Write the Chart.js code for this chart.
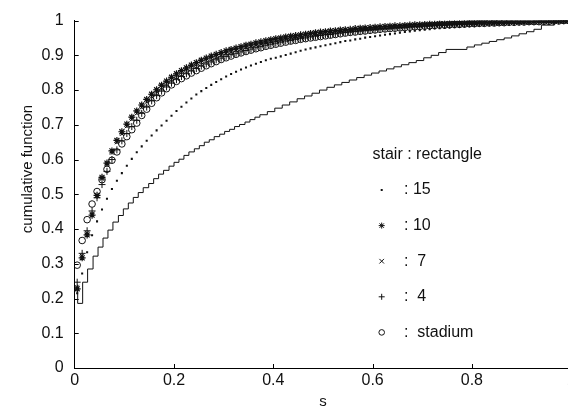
<!DOCTYPE html>
<html><head><meta charset="utf-8">
<script src="https://cdn.jsdelivr.net/npm/chart.js@4.4.1/dist/chart.umd.min.js"></script>
<style>
html,body{margin:0;padding:0;overflow:hidden;background:#fff;width:568px;height:408px}
#wrap{width:580px;height:408px;position:relative}
</style></head><body><div id="wrap"><canvas id="c" width="580" height="408"></canvas></div>
<script>
// sampling grid of s for the marker series
const sGrid = [0.005,0.015,0.025,0.035,0.045,0.055,0.065,0.075,0.085,0.095,
0.105,0.115,0.125,0.135,0.145,0.155,0.165,0.175,0.185,0.195,
0.205,0.215,0.225,0.235,0.245,0.255,0.265,0.275,0.285,0.295,
0.305,0.315,0.325,0.335,0.345,0.355,0.365,0.375,0.385,0.395,
0.405,0.415,0.425,0.435,0.445,0.455,0.465,0.475,0.485,0.495,
0.505,0.515,0.525,0.535,0.545,0.555,0.565,0.575,0.585,0.595,
0.605,0.615,0.625,0.635,0.645,0.655,0.665,0.675,0.685,0.695,
0.705,0.715,0.725,0.735,0.745,0.755,0.765,0.775,0.785,0.795,
0.805,0.815,0.825,0.835,0.845,0.855,0.865,0.875,0.885,0.895,
0.905,0.915,0.925,0.935,0.945,0.955,0.965,0.975,0.985,0.995];

// stair = rectangle (step positions and levels)
const stairX = [0.006,0.006,0.016,0.026,0.037,0.047,0.057,0.067,0.077,0.088,0.098,
0.108,0.118,0.128,0.138,0.149,0.159,0.169,0.179,0.190,0.200,
0.210,0.220,0.230,0.241,0.251,0.261,0.271,0.281,0.292,0.302,
0.312,0.322,0.332,0.343,0.353,0.363,0.373,
0.388,0.403,0.418,0.433,0.448,0.463,0.478,0.493,0.508,0.523,
0.538,0.553,0.568,0.583,0.598,0.613,0.628,0.643,0.658,0.673,
0.688,0.703,0.718,0.733,0.748,0.790,0.805,0.820,0.835,0.850,
0.865,0.880,0.895,0.910,0.925,0.940,0.966,1.0];
const stairY = [0.240,0.186,0.247,0.285,0.322,0.348,0.374,0.397,0.420,0.439,0.458,
0.475,0.491,0.505,0.519,0.531,0.545,0.558,0.569,0.581,0.592,
0.601,0.612,0.622,0.631,0.640,0.650,0.657,0.666,0.673,0.681,
0.687,0.695,0.701,0.708,0.715,0.722,0.729,
0.738,0.748,0.757,0.766,0.775,0.783,0.791,0.800,0.808,0.815,
0.822,0.829,0.836,0.843,0.849,0.855,0.861,0.867,0.873,0.879,
0.885,0.893,0.900,0.908,0.917,0.924,0.930,0.935,0.940,0.945,
0.950,0.956,0.962,0.968,0.975,0.987,0.996,0.998];

// 15 (dots)
const dots15 = [0.215,0.272,0.333,0.382,0.422,0.456,0.487,0.515,0.539,0.561,
0.582,0.602,0.621,0.638,0.654,0.669,0.684,0.698,0.712,0.726,
0.740,0.752,0.764,0.776,0.787,0.797,0.806,0.815,0.823,0.831,
0.839,0.846,0.853,0.859,0.865,0.871,0.876,0.881,0.886,0.890,
0.893,0.897,0.901,0.905,0.909,0.913,0.917,0.920,0.923,0.926,
0.929,0.932,0.935,0.938,0.941,0.943,0.946,0.948,0.951,0.953,
0.955,0.957,0.959,0.961,0.963,0.965,0.967,0.969,0.971,0.972,
0.974,0.975,0.977,0.978,0.979,0.980,0.981,0.982,0.983,0.984,
0.985,0.986,0.987,0.988,0.989,0.990,0.990,0.991,0.992,0.993,
0.993,0.994,0.995,0.995,0.996,0.997,0.997,0.998,0.999,1.000];

// 10 (stars)
const stars10 = [0.228,0.317,0.383,0.440,0.497,0.549,0.590,0.625,0.655,0.680,
0.702,0.722,0.740,0.757,0.773,0.788,0.801,0.814,0.826,0.837,
0.847,0.856,0.864,0.872,0.879,0.886,0.892,0.898,0.903,0.908,
0.913,0.917,0.921,0.925,0.929,0.932,0.936,0.939,0.942,0.945,
0.948,0.950,0.953,0.955,0.957,0.959,0.961,0.963,0.965,0.967,
0.968,0.970,0.971,0.973,0.974,0.975,0.977,0.978,0.979,0.980,
0.981,0.982,0.983,0.984,0.985,0.985,0.986,0.987,0.988,0.988,
0.989,0.990,0.990,0.991,0.991,0.992,0.992,0.993,0.993,0.994,
0.994,0.995,0.995,0.995,0.996,0.996,0.996,0.997,0.997,0.997,
0.998,0.998,0.998,0.999,0.999,0.999,0.999,1.000,1.000,1.000];

// 7 (crosses)
const cross7 = [0.232,0.322,0.388,0.444,0.496,0.545,0.586,0.620,0.650,0.674,
0.696,0.716,0.733,0.750,0.766,0.781,0.795,0.808,0.820,0.831,
0.841,0.850,0.858,0.866,0.873,0.880,0.886,0.892,0.897,0.902,
0.907,0.911,0.915,0.919,0.923,0.926,0.930,0.933,0.936,0.939,
0.942,0.944,0.947,0.949,0.952,0.954,0.956,0.958,0.960,0.962,
0.963,0.965,0.967,0.968,0.970,0.971,0.972,0.974,0.975,0.976,
0.977,0.978,0.979,0.980,0.981,0.982,0.983,0.984,0.985,0.985,
0.986,0.987,0.988,0.988,0.989,0.990,0.990,0.991,0.991,0.992,
0.992,0.993,0.993,0.994,0.994,0.995,0.995,0.996,0.996,0.996,
0.997,0.997,0.998,0.998,0.998,0.999,0.999,0.999,1.000,1.000];

// 4 (plus)
const plus4 = [0.247,0.330,0.395,0.452,0.490,0.528,0.566,0.600,0.628,0.654,
0.675,0.695,0.713,0.733,0.751,0.769,0.784,0.797,0.809,0.820,
0.830,0.839,0.847,0.855,0.862,0.869,0.875,0.881,0.887,0.892,
0.897,0.902,0.906,0.910,0.914,0.918,0.922,0.925,0.929,0.932,
0.935,0.938,0.941,0.943,0.946,0.948,0.950,0.953,0.955,0.957,
0.959,0.960,0.962,0.964,0.966,0.967,0.969,0.970,0.972,0.973,
0.974,0.976,0.977,0.978,0.979,0.980,0.981,0.982,0.983,0.984,
0.985,0.985,0.986,0.987,0.988,0.988,0.989,0.990,0.990,0.991,
0.991,0.992,0.993,0.993,0.994,0.994,0.995,0.995,0.996,0.996,
0.996,0.997,0.997,0.998,0.998,0.998,0.999,0.999,1.000,1.000];

// stadium (circles)
const stadium = [0.296,0.367,0.427,0.472,0.508,0.542,0.572,0.598,0.622,0.645,
0.666,0.686,0.705,0.727,0.745,0.762,0.778,0.792,0.804,0.815,
0.825,0.833,0.841,0.849,0.856,0.863,0.870,0.876,0.882,0.888,
0.893,0.898,0.903,0.907,0.911,0.915,0.919,0.922,0.926,0.929,
0.932,0.935,0.938,0.941,0.943,0.946,0.948,0.950,0.952,0.954,
0.956,0.958,0.960,0.962,0.964,0.966,0.967,0.969,0.970,0.972,
0.973,0.975,0.976,0.977,0.978,0.979,0.980,0.981,0.982,0.983,
0.984,0.985,0.986,0.987,0.987,0.988,0.989,0.989,0.990,0.991,
0.991,0.992,0.992,0.993,0.993,0.994,0.994,0.995,0.995,0.996,
0.996,0.997,0.997,0.997,0.998,0.998,0.999,0.999,1.000,1.000];

const xTickValues = [0.2,0.4,0.6,0.8,1];
const yTickValues = [0.1,0.2,0.3,0.4,0.5,0.6,0.7,0.8,0.9,1];
const legendTitle = 'stair : rectangle';
const legendRows = [
  {mark:'dot', text:': 15'},
  {mark:'star', text:': 10'},
  {mark:'x', text:':  7'},
  {mark:'plus', text:':  4'},
  {mark:'circle', text:':  stadium'}
];
const xTitle = 's';
const yTitle = 'cumulative function';

const FONT = '"Liberation Sans", Arial, Helvetica, sans-serif';
const INK = '#111';
const fmt = v => String(Math.round(v*10)/10);

const pts = arr => arr.map((v,i)=>({x:sGrid[i], y:v}));

const decor = {
  id:'decor',
  beforeDatasetsDraw(chart){
    const {ctx, chartArea:a, scales:{x,y}} = chart;
    ctx.save();
    ctx.strokeStyle = '#000'; ctx.lineWidth = 1;
    ctx.beginPath();
    xTickValues.forEach(v=>{ const px = Math.round(x.getPixelForValue(v))+0.5; ctx.moveTo(px, a.bottom); ctx.lineTo(px, a.bottom-4); });
    yTickValues.forEach(v=>{ const py = Math.round(y.getPixelForValue(v))+0.5; ctx.moveTo(a.left, py); ctx.lineTo(a.left+4, py); });
    ctx.stroke();
    ctx.restore();
  },
  afterDraw(chart){
    const {ctx, chartArea:a} = chart;
    ctx.save();
    ctx.fillStyle = '#111';
    ctx.font = '15px ' + FONT;
    ctx.textAlign = 'center';
    ctx.textBaseline = 'alphabetic';
    ctx.fillText(xTitle, (a.left+a.right)/2, 406);
    ctx.save();
    ctx.translate(32, 169);
    ctx.rotate(-Math.PI/2);
    ctx.fillText(yTitle, 0, 0);
    ctx.restore();
    // legend
    ctx.font = '16px ' + FONT;
    ctx.textAlign = 'left';
    ctx.textBaseline = 'middle';
    ctx.fillText(legendTitle, 372.5, 155);
    const mx = 381.7;
    ctx.strokeStyle = INK; ctx.lineWidth = 1;
    legendRows.forEach((r,i)=>{
      const yy = 190 + i*35.6;
      ctx.fillText(r.text, 404, yy);
      ctx.beginPath();
      if (r.mark==='dot') { ctx.fillRect(mx-1, yy-1, 2, 2); }
      else if (r.mark==='star') {
        const s=3; ctx.moveTo(mx-s,yy); ctx.lineTo(mx+s,yy); ctx.moveTo(mx,yy-s); ctx.lineTo(mx,yy+s);
        const d=2.2; ctx.moveTo(mx-d,yy-d); ctx.lineTo(mx+d,yy+d); ctx.moveTo(mx-d,yy+d); ctx.lineTo(mx+d,yy-d);
      } else if (r.mark==='x') {
        const d=2.3; ctx.moveTo(mx-d,yy-d); ctx.lineTo(mx+d,yy+d); ctx.moveTo(mx-d,yy+d); ctx.lineTo(mx+d,yy-d);
      } else if (r.mark==='plus') {
        const s=3; ctx.moveTo(mx-s,yy); ctx.lineTo(mx+s,yy); ctx.moveTo(mx,yy-s); ctx.lineTo(mx,yy+s);
      } else if (r.mark==='circle') {
        ctx.arc(mx, yy, 2.8, 0, Math.PI*2);
      }
      ctx.stroke();
    });
    ctx.restore();
  }
};

new Chart(document.getElementById('c'), {
  type:'scatter',
  data:{datasets:[
    {label:'10', data:pts(stars10), pointStyle:'star', radius:3.5, borderColor:INK, backgroundColor:INK, borderWidth:1.2, showLine:false},
    {label:'7', data:pts(cross7), pointStyle:'crossRot', radius:3, borderColor:INK, backgroundColor:INK, borderWidth:1, showLine:false},
    {label:'4', data:pts(plus4), pointStyle:'cross', radius:3.5, borderColor:INK, backgroundColor:INK, borderWidth:1, showLine:false},
    {label:'stadium', data:pts(stadium), pointStyle:'circle', radius:3.3, borderColor:INK, backgroundColor:'rgba(0,0,0,0)', borderWidth:1, showLine:false},
    {label:'15', data:pts(dots15), pointStyle:'rect', radius:1.45, borderColor:INK, backgroundColor:INK, borderWidth:0, showLine:false},
    {label:'rectangle', data:stairX.map((v,i)=>({x:v, y:stairY[i]})), showLine:true, stepped:'before', borderColor:INK, borderWidth:1, pointRadius:0, fill:false}
  ]},
  options:{
    responsive:false, animation:false, devicePixelRatio:1,
    layout:{padding:{left:0, right:8.8, top:12, bottom:0}},
    plugins:{legend:{display:false}, tooltip:{enabled:false}},
    scales:{
      x:{type:'linear', min:0, max:1,
         ticks:{stepSize:0.2, padding:3, color:'#111', font:{family:FONT, size:16}, callback:v=>fmt(v)},
         grid:{display:false, drawTicks:false}, border:{display:true, color:'#000', width:1},
         afterFit(s){ s.height = 40; }},
      y:{type:'linear', min:0, max:1,
         ticks:{stepSize:0.1, padding:11, color:'#111', font:{family:FONT, size:16}, callback:v=>fmt(v)},
         grid:{display:false, drawTicks:false}, border:{display:true, color:'#000', width:1},
         afterFit(s){ s.width = 74.7; }}
    }
  },
  plugins:[decor]
});
</script></body></html>
